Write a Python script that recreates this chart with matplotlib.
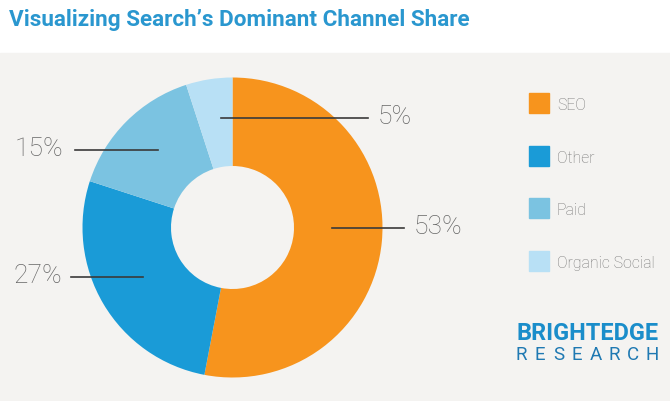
import numpy as np
import matplotlib.pyplot as plt
from matplotlib.patches import Rectangle

# data
channels = ["SEO", "Other", "Paid", "Organic Social"]
shares = [53, 27, 15, 5]
colors = ["#f7941d", "#1a9bd7", "#7bc3e1", "#b8e0f5"]
pct_labels = ["53%", "27%", "15%", "5%"]

W, H = 670, 401
fig = plt.figure(figsize=(W / 100, H / 100), dpi=100)
fig.patch.set_facecolor("white")

# overlay axes in pixel coords
bg = fig.add_axes([0, 0, 1, 1])
bg.set_xlim(0, W)
bg.set_ylim(H, 0)
bg.axis("off")
bg.add_patch(Rectangle((0, 53), W, H - 53, color="#f4f3f1", zorder=0))

bg.text(9, 20, "Visualizing Search\u2019s Dominant Channel Share",
        fontsize=16.2, fontweight="bold", color="#2a97cf",
        family="Roboto", va="center", ha="left")

# donut
cx, cy, R = 232.5, 227.5, 150
ax = fig.add_axes([(cx - R) / W, (H - cy - R) / H, 2 * R / W, 2 * R / H])
wedges, _ = ax.pie(shares, colors=colors, startangle=90, counterclock=False,
                   radius=1, wedgeprops=dict(width=0.59, linewidth=0))
ax.set_xlim(-1, 1)
ax.set_ylim(-1, 1)
ax.set_aspect("equal")
ax.axis("off")

# leader lines: (start x, y, end x, text x) in pie units
leaders = {"53%": (0.66, 0.0, 1.14, 1.21),
           "27%": (-0.60, -0.33, -1.08, -1.135),
           "15%": (-0.50, 0.515, -1.05, -1.13),
           "5%": (-0.077, 0.73, 0.90, 0.97)}
for lab in pct_labels:
    x0, y0, x1, xt = leaders[lab]
    ax.plot([x0, x1], [y0, y0], color="#3a3a3a", lw=1.2, clip_on=False)
    ax.text(xt, y0 + 0.005, lab, ha="left" if xt > 0 else "right", va="center",
            fontsize=19, color="#666666", family="Roboto", fontweight="light")

# legend
for i, (name, c) in enumerate(zip(channels, colors)):
    y = 93 + i * 52.7
    bg.add_patch(Rectangle((529, y), 20, 20, color=c))
    bg.text(557, y + 12.5, name, ha="left", va="center", fontsize=11.4,
            color="#777777", family="Roboto", fontweight="light")

# logo
logo = bg.text(516, 333.5, "BRIGHTEDGE", ha="left", va="center", fontsize=19,
               fontweight="bold", color="#1a8dca", family="Roboto")
rend = fig.canvas.get_renderer()
wpx = logo.get_window_extent(rend).width
logo.set_fontsize(19 * 141 / wpx)
for i, ch in enumerate("RESEARCH"):
    bg.text(521 + i * 18.7, 355.5, ch, ha="center", va="center", fontsize=13.5,
            color="#1f79b2", family="Roboto")

fig.savefig("out.png", dpi=100, facecolor=fig.get_facecolor())
